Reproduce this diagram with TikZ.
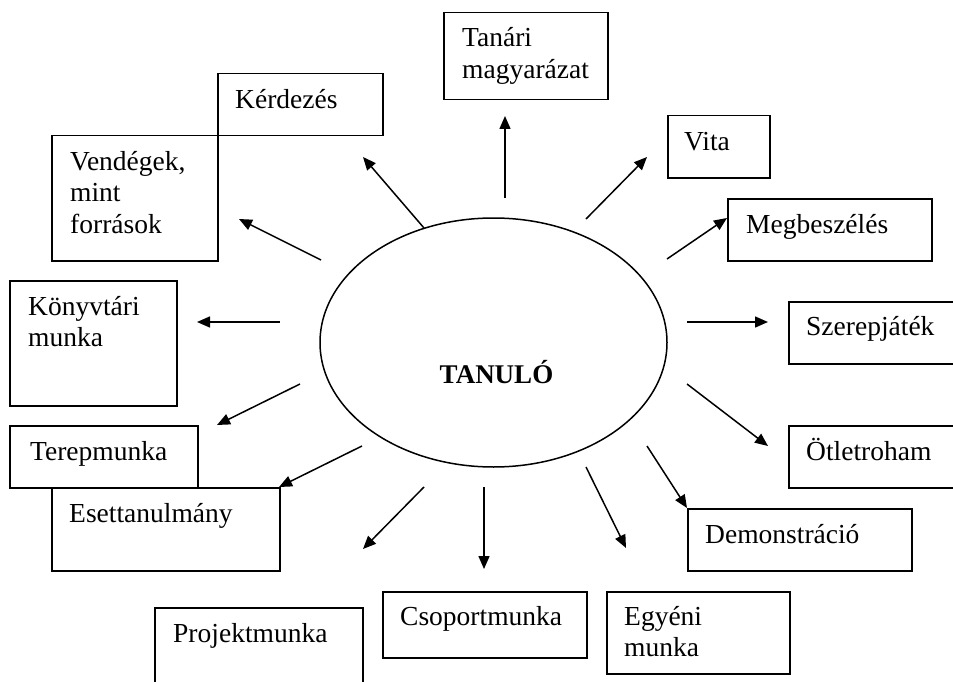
\documentclass[tikz,border=0pt]{standalone}
\usepackage{fontspec}
\setmainfont{Liberation Serif}
\usetikzlibrary{arrows.meta,shapes.geometric}
\begin{document}
\begin{tikzpicture}[x=1pt,y=-1pt,
  box/.style={draw, line width=1.5pt, rectangle, inner sep=0pt, anchor=north west},
  lbl/.style={anchor=base west, inner sep=0pt, font=\fontsize{27.5}{31.5}\selectfont, align=left},
  arr/.style={line width=1.5pt, -{Triangle[length=13pt,width=11pt]}},
]
\useasboundingbox (0,0) rectangle (953,682);
\fill[white] (0,0) rectangle (953,682);
\clip (0,0) rectangle (953,682);

% boxes
\node[box, minimum width=165pt, minimum height=62pt]  (kerd) at (217,73)  {};
\node[box, minimum width=166pt, minimum height=125pt] (vend) at (51,135)  {};
\node[box, minimum width=164pt, minimum height=87pt]  (tanr) at (443,12)  {};
\node[box, minimum width=102pt, minimum height=62pt]  (vita) at (667,115) {};
\node[box, minimum width=204pt, minimum height=62pt]  (megb) at (727,198) {};
\node[box, minimum width=167pt, minimum height=125pt] (konyv) at (9,280)  {};
\node[box, minimum width=188pt, minimum height=62pt]  (terep) at (9,425)  {};
\node[box, minimum width=228pt, minimum height=83pt]  (eset) at (51,487)  {};
\node[box, minimum width=208pt, minimum height=100pt] (proj) at (154,607) {};
\node[box, minimum width=204pt, minimum height=66pt]  (csop) at (382,591) {};
\node[box, minimum width=183pt, minimum height=82pt]  (egye) at (606,591) {};
\node[box, minimum width=224pt, minimum height=62pt]  (demo) at (687,508) {};
\node[box, minimum width=190pt, minimum height=62pt]  (otlet) at (788,425) {};
\node[box, minimum width=190pt, minimum height=62pt]  (szer) at (788,301) {};

% labels (base = baseline of last line)
\node[lbl] (kerdT)  at ([shift={(18,36)}]kerd.north west)  {Kérdezés};
\node[lbl] (vendT)  at ([shift={(19,98)}]vend.north west)  {Vendégek,\\mint\\források};
\node[lbl] (tanrT)  at ([shift={(19,66.5)}]tanr.north west)  {Tanári\\magyarázat};
\node[lbl] (vitaT)  at ([shift={(17,35)}]vita.north west)  {Vita};
\node[lbl] (megbT)  at ([shift={(19,35)}]megb.north west)  {Megbeszélés};
\node[lbl] (konyvT) at ([shift={(19,66.5)}]konyv.north west) {Könyvtári\\munka};
\node[lbl] (terepT) at ([shift={(21,35)}]terep.north west) {Terepmunka};
\node[lbl] (esetT)  at ([shift={(18,35)}]eset.north west)  {Esettanulmány};
\node[lbl] (projT)  at ([shift={(19,35)}]proj.north west)  {Projektmunka};
\node[lbl] (csopT)  at ([shift={(18,34)}]csop.north west)  {Csoportmunka};
\node[lbl] (egyeT)  at ([shift={(18,65.5)}]egye.north west)  {Egyéni\\munka};
\node[lbl] (demoT)  at ([shift={(18,35)}]demo.north west)  {Demonstráció};
\node[lbl] (otletT) at ([shift={(18,35)}]otlet.north west) {Ötletroham};
\node[lbl] (szerT)  at ([shift={(18,34)}]szer.north west)  {Szerepjáték};

% centre
\node[draw, ellipse, line width=1.5pt, minimum width=347pt, minimum height=249pt, inner sep=0pt] (tan) at (493.5,342.5) {};
\node[anchor=base, inner sep=0pt, font=\fontsize{27}{31}\selectfont\bfseries] (tanT) at (496.5,383) {TANULÓ};

% arrow end points
\coordinate (s1) at (424,228);  \coordinate (e1) at (363,157);
\coordinate (s2) at (321,260);  \coordinate (e2) at (239,219);
\coordinate (s3) at (505,198);  \coordinate (e3) at (505,116);
\coordinate (s4) at (586,219);  \coordinate (e4) at (647,157);
\coordinate (s5) at (667,259);  \coordinate (e5) at (727,218);
\coordinate (s6) at (280,322);  \coordinate (e6) at (197,322);
\coordinate (s7) at (300,384);  \coordinate (e7) at (217,425);
\coordinate (s8) at (362,446);  \coordinate (e8) at (279,487);
\coordinate (s9) at (424,487);  \coordinate (e9) at (363,549);
\coordinate (s10) at (484,487); \coordinate (e10) at (484,569);
\coordinate (s11) at (586,467); \coordinate (e11) at (626,548);
\coordinate (s12) at (647,446); \coordinate (e12) at (687,508);
\coordinate (s13) at (687,384); \coordinate (e13) at (768,446);
\coordinate (s14) at (687,322); \coordinate (e14) at (768,322);

\foreach \i in {1,...,14} { \draw[arr] (s\i) -- (e\i); }
\end{tikzpicture}
\end{document}
